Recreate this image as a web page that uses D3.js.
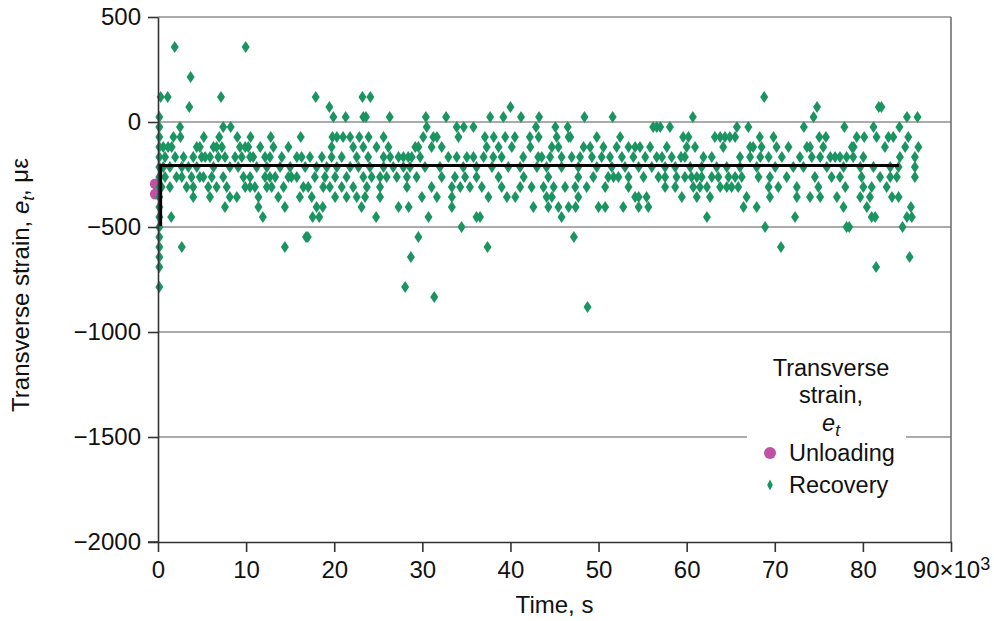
<!DOCTYPE html>
<html><head><meta charset="utf-8">
<script src="https://cdn.jsdelivr.net/npm/d3@7/dist/d3.min.js"></script>
<style>body{margin:0;background:#fff;} text{font-family:"Liberation Sans",Arial,sans-serif;fill:#111;}</style>
</head><body><svg id="c" width="994" height="621"></svg>
<script>
// ---- data (time in 10^3 s, strain in microstrain) ----
const xTicks = [0, 10, 20, 30, 40, 50, 60, 70, 80, 90];
const yTicks = [500, 0, -500, -1000, -1500, -2000];
const unloadingTime = [-0.3, -0.3];
const unloadingStrain = [-295, -343];
const meanLineTime = [0.3, 0.3, 84.1];
const meanLineStrain = [-495, -207, -207];
const recoveryLevels = [357, 214, 119, 71, 24, -24, -71, -119, -167, -214, -262, -310, -357, -405, -452, -500, -548, -595, -643, -690, -786, -833, -881];
const recoveryTimesByLevel = [
  [1.9, 9.95],
  [3.7],
  [0.3, 1.1, 7.15, 17.9, 23.2, 24.1, 68.8],
  [3.55, 19.45, 40.0, 74.8, 81.8, 82.1],
  [0.15, 19.9, 21.3, 23.3, 23.6, 26.3, 30.4, 32.7, 37.7, 39.2, 41.2, 43.25, 48.4, 51.6, 60.7, 74.4, 85.0, 86.2],
  [0.15, 2.5, 7.4, 8.25, 30.5, 33.9, 34.7, 35.8, 42.9, 45.1, 46.5, 56.2, 56.6, 57.0, 58.1, 65.7, 67.0, 73.3, 77.9, 81.2, 84.15],
  [0.15, 1.75, 2.55, 5.2, 6.95, 9.0, 10.5, 12.8, 16.2, 19.8, 20.3, 21.0, 21.8, 22.85, 23.9, 25.6, 30.1, 31.25, 31.65, 34.1, 37.1, 38.1, 39.4, 40.5, 42.2, 43.2, 45.25, 46.6, 46.8, 49.8, 52.45, 59.6, 60.2, 63.2, 63.8, 64.35, 64.9, 65.5, 68.3, 69.85, 75.05, 75.8, 79.3, 80.15, 81.55, 82.9, 83.45, 85.15],
  [0.15, 0.6, 1.15, 1.55, 4.4, 4.75, 6.3, 6.65, 7.25, 9.3, 9.9, 10.25, 11.6, 13.1, 14.8, 19.7, 22.15, 23.3, 24.8, 26.15, 29.2, 29.55, 31.05, 32.2, 37.3, 38.65, 40.15, 42.25, 44.7, 45.45, 48.3, 49.05, 50.55, 52.05, 53.4, 54.15, 54.7, 55.85, 57.75, 60.0, 60.95, 64.15, 67.2, 67.55, 68.5, 70.2, 71.55, 73.65, 74.0, 75.5, 78.75, 78.95, 82.5, 84.8, 86.3],
  [0.15, 0.8, 1.95, 2.9, 4.0, 4.95, 5.35, 5.9, 6.85, 7.6, 8.75, 9.5, 10.45, 10.8, 12.15, 12.7, 14.05, 15.75, 16.3, 17.25, 18.6, 19.7, 20.85, 22.55, 23.85, 25.6, 26.35, 27.3, 27.85, 28.4, 28.8, 29.75, 32.95, 33.9, 35.05, 35.8, 36.95, 38.05, 39.0, 41.45, 43.15, 43.55, 44.5, 45.8, 46.95, 47.9, 49.25, 50.35, 51.3, 52.65, 53.95, 55.3, 56.6, 57.2, 58.3, 59.35, 59.8, 61.9, 62.85, 66.05, 67.2, 68.35, 69.3, 70.8, 72.85, 74.2, 75.15, 76.3, 76.85, 77.4, 78.15, 78.9, 80.05, 84.2, 85.9],
  [0.15, 0.6, 1.35, 2.7, 3.45, 4.4, 6.3, 8.15, 9.1, 11.2, 12.35, 13.85, 15.0, 16.7, 18.0, 19.15, 20.3, 21.8, 22.75, 24.05, 25.6, 26.7, 27.85, 28.6, 30.3, 32.0, 34.65, 36.15, 37.9, 39.75, 41.1, 43.0, 44.1, 45.8, 47.7, 49.8, 51.5, 53.0, 54.55, 56.05, 57.55, 58.7, 60.4, 61.7, 63.4, 64.55, 66.05, 67.95, 70.05, 72.1, 73.25, 75.9, 77.8, 79.7, 81.2, 83.1, 84.05, 85.9],
  [0.15, 0.8, 2.1, 2.7, 3.8, 4.75, 5.15, 6.1, 7.4, 9.7, 10.45, 12.15, 12.7, 13.3, 14.8, 15.15, 15.75, 17.8, 18.95, 20.1, 21.4, 23.3, 24.25, 25.2, 25.95, 27.1, 28.25, 29.35, 32.2, 33.7, 34.85, 36.15, 38.65, 41.5, 44.3, 47.7, 49.4, 51.1, 51.7, 52.25, 53.4, 55.1, 56.8, 57.55, 58.85, 59.8, 60.55, 61.15, 61.7, 62.85, 63.6, 64.75, 65.5, 66.25, 68.15, 69.45, 71.35, 74.55, 76.45, 77.4, 79.85, 81.95, 83.1, 83.85, 85.9],
  [0.15, 0.4, 1.35, 3.25, 4.0, 5.7, 6.65, 7.8, 9.9, 10.45, 11.0, 12.35, 12.9, 14.25, 16.5, 17.05, 18.75, 19.5, 20.85, 22.15, 23.7, 25.2, 28.25, 31.05, 33.35, 34.3, 35.4, 36.75, 39.0, 41.1, 42.4, 43.75, 44.9, 46.2, 47.35, 48.65, 50.75, 53.4, 57.55, 58.7, 60.75, 61.5, 62.3, 63.8, 64.55, 65.1, 65.85, 69.3, 70.4, 72.5, 74.95, 78.0, 80.05, 81.0, 82.7],
  [0.15, 4.0, 5.9, 8.15, 8.95, 11.4, 13.65, 16.1, 17.45, 20.1, 21.4, 22.55, 23.5, 25.2, 29.95, 31.65, 33.35, 37.5, 39.6, 40.55, 44.1, 44.7, 47.7, 54.15, 54.55, 55.45, 59.45, 61.15, 62.65, 66.8, 69.45, 72.5, 74.0, 75.15, 77.05, 79.7, 80.8, 83.3, 84.05],
  [0.15, 7.6, 11.4, 14.4, 18.0, 18.7, 23.1, 27.3, 28.45, 33.35, 42.6, 44.3, 45.45, 46.6, 47.4, 50.0, 50.75, 52.8, 54.55, 55.65, 66.45, 67.95, 77.8, 80.45, 85.45],
  [0.15, 1.5, 11.9, 17.55, 18.3, 24.75, 30.7, 36.15, 36.55, 45.8, 62.3, 72.3, 81.0, 81.4, 85.0, 85.55],
  [0.15, 34.45, 68.9, 78.15, 78.45, 84.5],
  [0.15, 16.8, 17.0, 29.55, 47.2],
  [0.15, 2.7, 14.4, 37.4, 70.7],
  [0.15, 28.7, 85.3],
  [0.15, 81.5],
  [0.15, 28.05],
  [31.35],
  [48.75]
];
const legendTitle = ["Transverse", "strain,"];
const seriesNames = ["Unloading", "Recovery"];
const colors = {unloading: "#bf51a6", recovery: "#1a9461"};

// ---- build ----
const recovery = [];
recoveryLevels.forEach((s, i) => recoveryTimesByLevel[i].forEach(t => recovery.push([t, s])));
const unloading = unloadingTime.map((t, i) => [t, unloadingStrain[i]]);
const meanLine = meanLineTime.map((t, i) => [t, meanLineStrain[i]]);

const L = 158, R = 951, T = 17, B = 542;
const x = d3.scaleLinear().domain([0, 90]).range([L, R]);
const y = d3.scaleLinear().domain([-2000, 500]).range([B, T]);
const svg = d3.select("#c");

// gridlines
svg.append("g").selectAll("line").data(yTicks.filter(v => v > -2000)).join("line")
  .attr("x1", L).attr("x2", R).attr("y1", d => y(d)).attr("y2", d => y(d))
  .attr("stroke", "#8f8f8f").attr("stroke-width", 1.6);
svg.append("line").attr("x1", R).attr("x2", R).attr("y1", T).attr("y2", B)
  .attr("stroke", "#707070").attr("stroke-width", 1.6);

// marks
const diamond = "M0,-6L4,0L0,6L-4,0Z";
svg.append("g").selectAll("circle").data(unloading).join("circle")
  .attr("cx", d => x(d[0])).attr("cy", d => y(d[1])).attr("r", 5.5)
  .attr("fill", colors.unloading);
svg.append("g").selectAll("path").data(recovery).join("path")
  .attr("d", diamond).attr("transform", d => `translate(${x(d[0])},${y(d[1])})`)
  .attr("fill", colors.recovery);
svg.append("path").datum(meanLine)
  .attr("d", d3.line().x(d => x(d[0])).y(d => y(d[1])))
  .attr("fill", "none").attr("stroke", "#000").attr("stroke-width", 3);

// axes
const fs = 24;
const xAxis = svg.append("g").attr("transform", `translate(0,${B})`)
  .call(d3.axisBottom(x).tickValues(xTicks).tickSize(10).tickPadding(9).tickSizeOuter(0).tickFormat(d => d === 90 ? "" : d));
const yAxis = svg.append("g").attr("transform", `translate(${L},0)`)
  .call(d3.axisLeft(y).tickValues(yTicks).tickSize(10).tickPadding(7).tickSizeOuter(0).tickFormat(d => d < 0 ? "\u2212" + Math.abs(d) : d));
[xAxis, yAxis].forEach(g => {
  g.select(".domain").attr("stroke", "#333").attr("stroke-width", 1.6);
  g.selectAll(".tick line").attr("stroke", "#333").attr("stroke-width", 1.6);
  g.selectAll("text").attr("font-size", fs).attr("fill", "#111").attr("font-family", "Liberation Sans, Arial, sans-serif");
});
// extend x-axis line to left tick
svg.append("line").attr("x1", L - 10).attr("x2", L).attr("y1", B).attr("y2", B).attr("stroke", "#333").attr("stroke-width", 1.6);
// last x label with exponent
const lastTick = xAxis.selectAll(".tick").filter(d => d === 90).select("text");
lastTick.text(null);
lastTick.append("tspan").text("90\u00d710");
lastTick.append("tspan").attr("dy", "-0.45em").attr("font-size", 18).text("3");

// axis titles
svg.append("text").attr("x", (L + R) / 2).attr("y", 613).attr("text-anchor", "middle")
  .attr("font-size", fs).text("Time, s");
const yt = svg.append("text").attr("transform", "translate(29,285) rotate(-90)")
  .attr("text-anchor", "middle").attr("font-size", fs);
yt.append("tspan").text("Transverse strain, ");
yt.append("tspan").attr("font-style", "italic").text("e");
yt.append("tspan").attr("font-style", "italic").attr("font-size", 17).attr("dy", "0.3em").text("t");
yt.append("tspan").attr("dy", "-0.25em").text(", \u03bc\u03b5");

// legend
const lg = svg.append("g");
lg.append("rect").attr("x", 747).attr("y", 348).attr("width", 159).attr("height", 152).attr("fill", "#fff");
const lfs = 23.5;
legendTitle.forEach((t, i) => lg.append("text").attr("x", 831).attr("y", 376 + i * 27)
  .attr("text-anchor", "middle").attr("font-size", lfs).text(t));
const et = lg.append("text").attr("x", 831).attr("y", 431).attr("text-anchor", "middle").attr("font-size", lfs).attr("font-style", "italic");
et.append("tspan").text("e");
et.append("tspan").attr("font-size", 17).attr("dy", "0.3em").text("t");
lg.append("circle").attr("cx", 770).attr("cy", 453).attr("r", 6).attr("fill", colors.unloading);
lg.append("path").attr("d", "M0,-5.5L2.8,0L0,5.5L-2.8,0Z").attr("transform", "translate(770,485)").attr("fill", colors.recovery);
seriesNames.forEach((n, i) => lg.append("text").attr("x", 789).attr("y", 461 + i * 32)
  .attr("font-size", lfs).text(n));
</script></body></html>
